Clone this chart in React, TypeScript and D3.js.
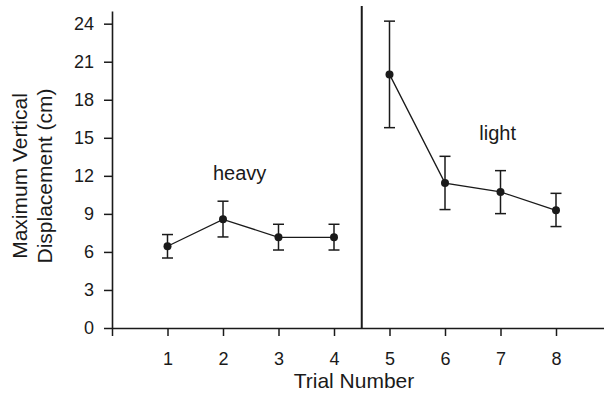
import * as React from 'react'
import { useEffect, useRef } from 'react'
import * as d3 from 'd3'

const trials = [1, 2, 3, 4, 5, 6, 7, 8]
const means = [6.45, 8.57, 7.15, 7.15, 20.0, 11.43, 10.73, 9.28]
const errLow = [5.52, 7.18, 6.15, 6.15, 15.8, 9.34, 9.02, 8.0]
const errHigh = [7.37, 10.0, 8.18, 8.18, 24.2, 13.54, 12.41, 10.62]
const groups = ['heavy', 'heavy', 'heavy', 'heavy', 'light', 'light', 'light', 'light']
const yTicks = [0, 3, 6, 9, 12, 15, 18, 21, 24]
const xTicks = [0, 1, 2, 3, 4, 5, 6, 7, 8]
const groupLabels = [
  { text: 'heavy', x: 2.3, y: 11.7 },
  { text: 'light', x: 6.95, y: 14.8 },
]

const width = 604
const height = 395
const ink = '#1a1a1a'
const font = '"Liberation Sans", Arial, Helvetica, sans-serif'

export default function App() {
  const svgRef = useRef<SVGSVGElement>(null)

  useEffect(() => {
    if (!svgRef.current) return
    const svg = d3.select(svgRef.current)
    svg.selectAll('*').remove()

    const x = d3.scaleLinear().domain([0, 8.9]).range([112, 112 + 8.9 * 55.5])
    const y = d3.scaleLinear().domain([0, 25]).range([328, 11])

    // y axis
    const yAxis = d3.axisLeft(y)
      .tickValues(yTicks)
      .tickSize(8)
      .tickSizeOuter(0)
      .tickPadding(10)
      .tickFormat(d3.format('d'))
    const gy = svg.append('g')
      .attr('transform', `translate(${x(0)},0)`)
      .call(yAxis as any)
    gy.select('.domain').attr('stroke', ink).attr('stroke-width', 1.6)
    gy.selectAll('.tick line').attr('stroke', ink).attr('stroke-width', 1.5)
    gy.selectAll('.tick text')
      .attr('font-size', '18px')
      .attr('font-family', font)
      .attr('fill', ink)

    // x axis
    const xAxis = d3.axisBottom(x)
      .tickValues(xTicks)
      .tickSize(8)
      .tickSizeOuter(0)
      .tickPadding(16)
      .tickFormat((d: any) => (d === 0 ? '' : String(d)))
    const gx = svg.append('g')
      .attr('transform', `translate(0,${y(0)})`)
      .call(xAxis as any)
    gx.select('.domain').attr('stroke', ink).attr('stroke-width', 1.6)
    gx.selectAll('.tick line').attr('stroke', ink).attr('stroke-width', 1.5)
    gx.selectAll('.tick text')
      .attr('font-size', '18px')
      .attr('font-family', font)
      .attr('fill', ink)

    // separator between heavy and light
    svg.append('line')
      .attr('x1', x(4.5))
      .attr('x2', x(4.5))
      .attr('y1', 6)
      .attr('y2', y(0))
      .attr('stroke', ink)
      .attr('stroke-width', 2)

    const data = trials.map((t, i) => ({
      t, m: means[i], lo: errLow[i], hi: errHigh[i], g: groups[i],
    }))

    const line = d3.line<any>().x(d => x(d.t)).y(d => y(d.m))
    ;['heavy', 'light'].forEach(g => {
      svg.append('path')
        .datum(data.filter(d => d.g === g))
        .attr('d', line)
        .attr('fill', 'none')
        .attr('stroke', ink)
        .attr('stroke-width', 1.3)
    })

    // error bars
    const cap = 5.5
    data.forEach(d => {
      const eg = svg.append('g').attr('stroke', ink).attr('stroke-width', 1.5)
      eg.append('line')
        .attr('x1', x(d.t)).attr('x2', x(d.t))
        .attr('y1', y(d.lo)).attr('y2', y(d.hi))
      eg.append('line')
        .attr('x1', x(d.t) - cap).attr('x2', x(d.t) + cap)
        .attr('y1', y(d.lo)).attr('y2', y(d.lo))
      eg.append('line')
        .attr('x1', x(d.t) - cap).attr('x2', x(d.t) + cap)
        .attr('y1', y(d.hi)).attr('y2', y(d.hi))
    })

    svg.selectAll('circle.pt')
      .data(data)
      .join('circle')
      .attr('class', 'pt')
      .attr('cx', d => x(d.t))
      .attr('cy', d => y(d.m))
      .attr('r', 4)
      .attr('fill', ink)

    // group labels
    groupLabels.forEach(l => {
      svg.append('text')
        .attr('x', x(l.x))
        .attr('y', y(l.y))
        .attr('text-anchor', 'middle')
        .attr('font-size', '20px')
        .attr('font-family', font)
        .attr('fill', ink)
        .text(l.text)
    })

    // axis titles
    svg.append('text')
      .attr('x', 354)
      .attr('y', 388)
      .attr('text-anchor', 'middle')
      .attr('font-size', '21px')
      .attr('font-family', font)
      .attr('fill', ink)
      .text('Trial Number')

    const yt = svg.append('text')
      .attr('transform', 'translate(27,176) rotate(-90)')
      .attr('text-anchor', 'middle')
      .attr('font-size', '21px')
      .attr('font-family', font)
      .attr('fill', ink)
    yt.append('tspan').attr('x', 0).attr('y', 0).text('Maximum Vertical')
    yt.append('tspan').attr('x', 0).attr('y', 24.5).text('Displacement (cm)')
  }, [])

  return (
    <svg
      ref={svgRef}
      width={width}
      height={height}
      style={{ position: 'absolute', left: 0, top: 0, background: '#fff' }}
    />
  )
}
